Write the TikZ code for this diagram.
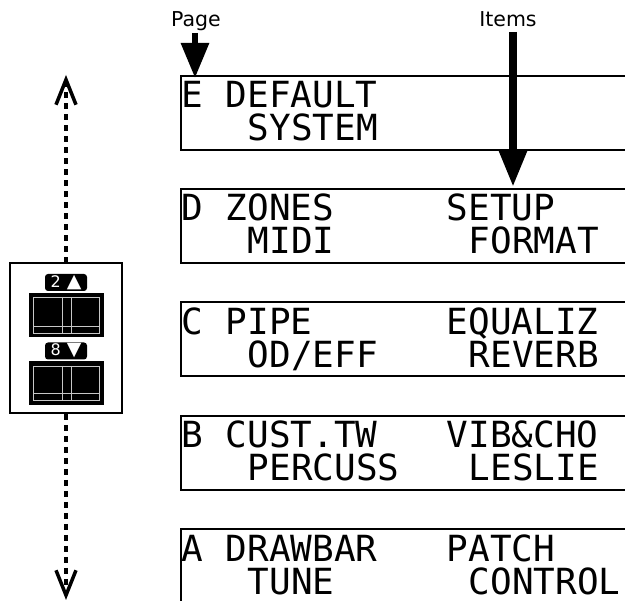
\documentclass[tikz,border=0pt]{standalone}
\usepackage{fontspec}
\setmainfont{DejaVu Sans}
\newfontfamily\lcdfont{DejaVu Sans Mono}
\newfontfamily\symfont{DejaVu Sans}
\usetikzlibrary{arrows.meta}
\begin{document}
\begin{tikzpicture}[x=1pt,y=-1pt,
  lcdbox/.style={draw, line width=1.8pt, anchor=north west, minimum width=480pt, minimum height=74pt, inner sep=0pt},
  lcdtxt/.style={anchor=base west, inner sep=0pt, text depth=0pt, font=\lcdfont\fontsize{36}{36}\selectfont},
  lab/.style={anchor=base, inner sep=0pt, font=\fontsize{20.5}{20.5}\selectfont},
  bigarrow/.style={line width=#1},
  navline/.style={line width=3.5pt, dash pattern=on 6pt off 5pt},
  navbox/.style={draw, line width=2pt, minimum width=112pt, minimum height=150pt, inner sep=0pt},
  keylab/.style={fill=black, text=white, rounded corners=3pt, minimum width=42pt, minimum height=17pt, inner sep=0pt, font=\symfont\fontsize{16}{16}\selectfont},
  btn/.style={fill=black, draw=black, minimum width=74pt, minimum height=43pt, inner sep=0pt},
  btnline/.style={draw=black!22, line width=0.9pt}
]
\clip (0,0) rectangle (625,601);

% LCD boxes
\node[lcdbox] (boxE) at (180,75) {};
\node[lcdtxt] (eL) at (181.5,108) {E};
\node[lcdtxt] (e1) at (225.5,108) {DEFAULT};
\node[lcdtxt] (e2) at (247.5,141) {SYSTEM};

\node[lcdbox] (boxD) at (180,188) {};
\node[lcdtxt] (dL) at (181.5,221) {D};
\node[lcdtxt] (d1) at (225.5,221) {ZONES};
\node[lcdtxt] (d3) at (446.5,221) {SETUP};
\node[lcdtxt] (d2) at (247.5,254) {MIDI};
\node[lcdtxt] (d4) at (468.5,254) {FORMAT};

\node[lcdbox] (boxC) at (180,301.5) {};
\node[lcdtxt] (cL) at (181.5,334.5) {C};
\node[lcdtxt] (c1) at (225.5,334.5) {PIPE};
\node[lcdtxt] (c3) at (446.5,334.5) {EQUALIZ};
\node[lcdtxt] (c2) at (247.5,367.5) {OD/EFF};
\node[lcdtxt] (c4) at (468.5,367.5) {REVERB};

\node[lcdbox] (boxB) at (180,415) {};
\node[lcdtxt] (bL) at (181.5,448) {B};
\node[lcdtxt] (b1) at (225.5,448) {CUST.TW};
\node[lcdtxt] (b3) at (446.5,448) {VIB\&CHO};
\node[lcdtxt] (b2) at (247.5,481) {PERCUSS};
\node[lcdtxt] (b4) at (468.5,481) {LESLIE};

\node[lcdbox] (boxA) at (180,528.5) {};
\node[lcdtxt] (aL) at (181.5,561.5) {A};
\node[lcdtxt] (a1) at (225.5,561.5) {DRAWBAR};
\node[lcdtxt] (a3) at (446.5,561.5) {PATCH};
\node[lcdtxt] (a2) at (247.5,594.5) {TUNE};
\node[lcdtxt] (a4) at (468.5,594.5) {CONTROL};

% Page / Items arrows
\node[lab] (page) at (196,27) {Page};
\node[lab] (items) at (508,27) {Items};
\coordinate (pagetail) at (195,33);
\coordinate (pagetip) at (195,78);
\coordinate (itemstail) at (513,32);
\coordinate (itemstip) at (513,187);
\draw[bigarrow=6pt, -{Triangle[width=27pt,length=35pt]}] (pagetail) -- (pagetip);
\draw[bigarrow=8pt, -{Triangle[width=26pt,length=36pt]}] (itemstail) -- (itemstip);

% navigation panel
\node[navbox] (nav) at (66,338) {};
\coordinate (navtop) at (66,75);
\coordinate (navbot) at (66,600);
\draw[navline, {Straight Barb[length=25pt,width=20pt]}-] (navtop) -- (nav.north);
\draw[navline, -{Straight Barb[length=25pt,width=20pt]}] (nav.south) -- (navbot);

\node[keylab] (lab2) at (66,282.5) {2\hspace{6pt}{\fontsize{19}{19}\selectfont ▲}};
\node[btn] (up) at (66,314.5) {};
\draw[btnline] (33,297) rectangle (99,333);
\draw[btnline] (33,326) -- (99,326);
\draw[btnline] (62,297) -- (62,333);
\draw[btnline] (71,297) -- (71,333);

\node[keylab] (lab8) at (66,351) {8\hspace{6pt}{\fontsize{19}{19}\selectfont ▼}};
\node[btn] (down) at (66,382.5) {};
\draw[btnline] (33,366) rectangle (99,400);
\draw[btnline] (33,393) -- (99,393);
\draw[btnline] (62,366) -- (62,400);
\draw[btnline] (71,366) -- (71,400);
\end{tikzpicture}
\end{document}
